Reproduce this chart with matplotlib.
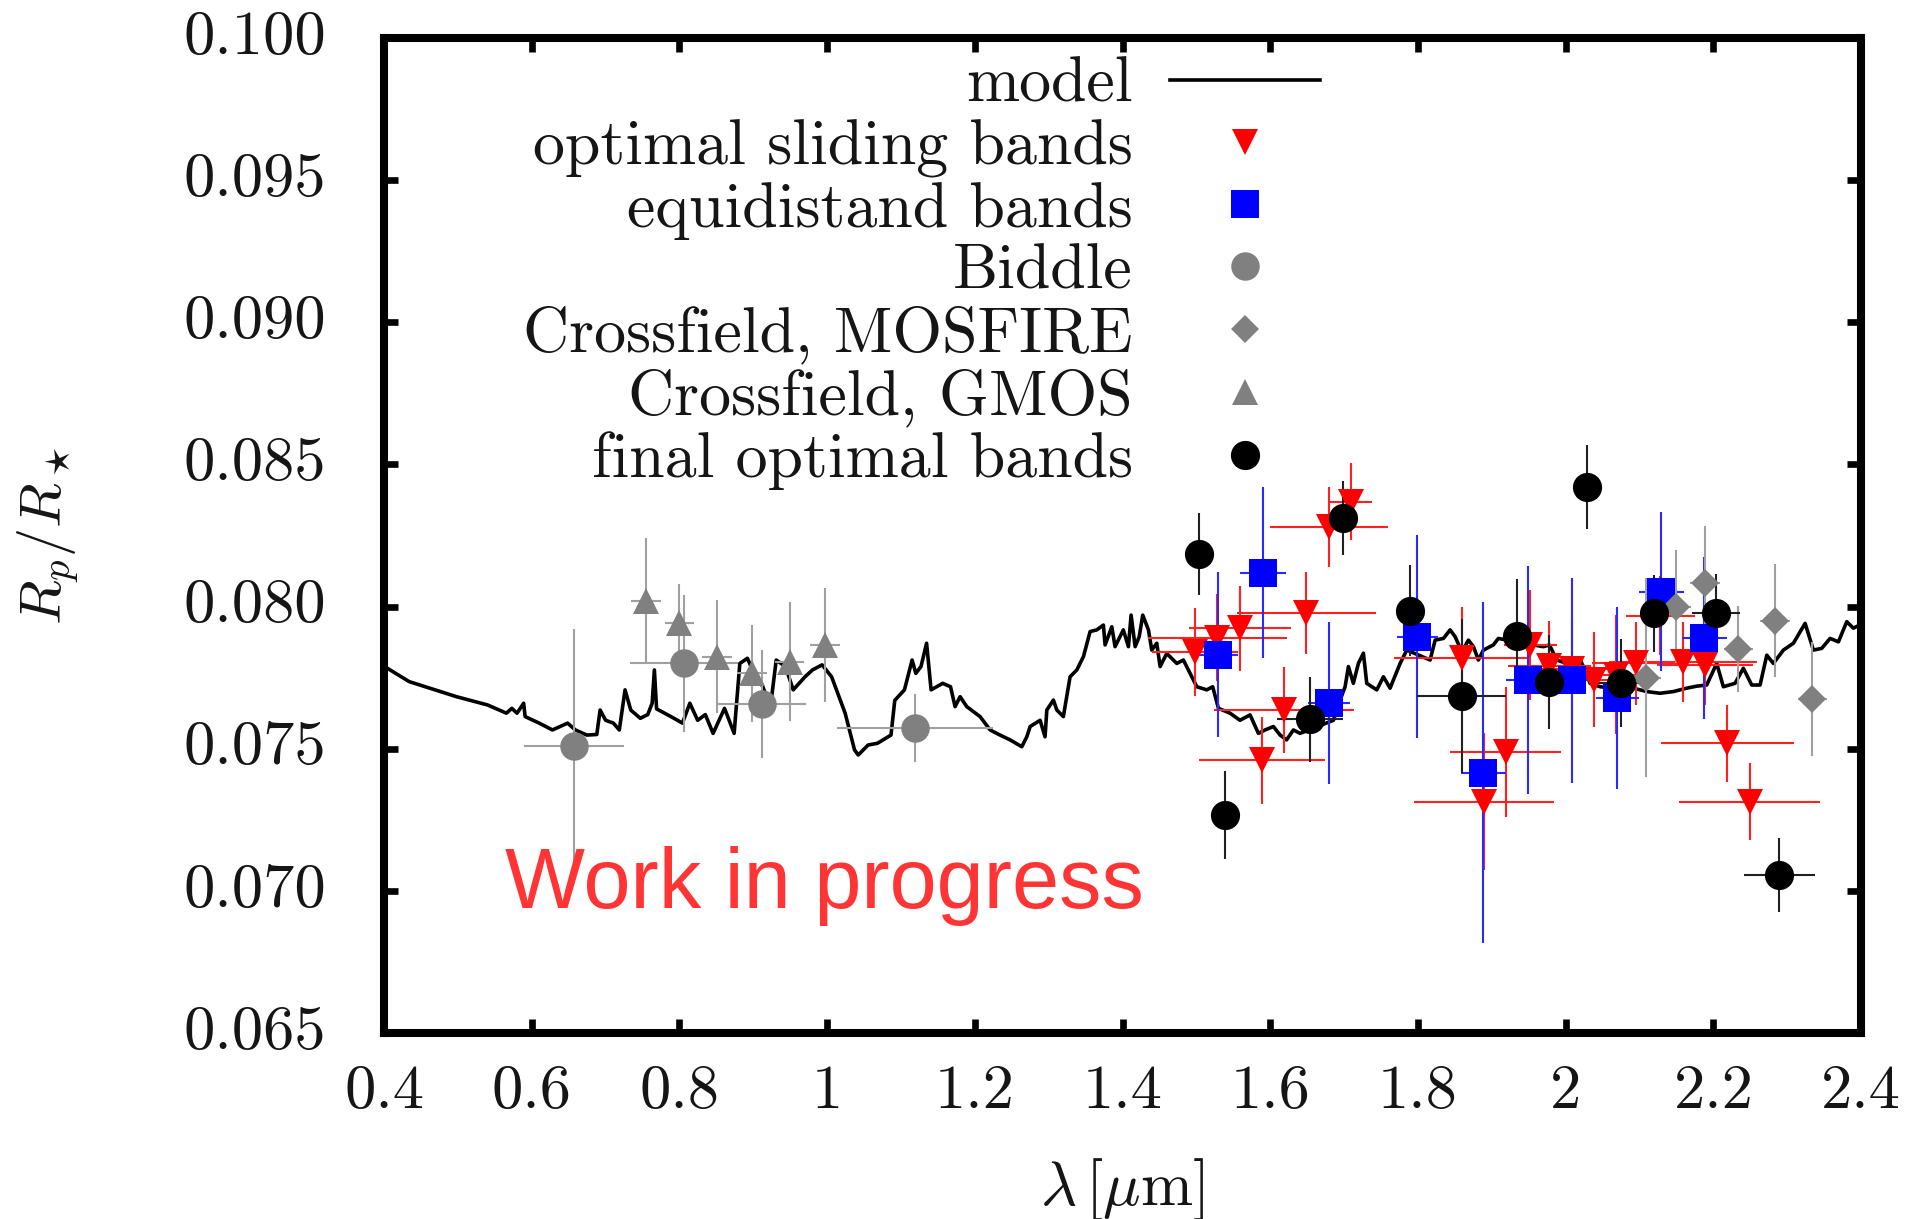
import matplotlib
matplotlib.use('Agg')
import matplotlib.pyplot as plt
from matplotlib.lines import Line2D

# model transmission spectrum (wavelength in micron, Rp/Rstar)
model_wl = [0.400, 0.434, 0.498, 0.540, 0.5656, 0.573, 0.580, 0.589, 0.591, 0.610,
            0.628, 0.6485, 0.659, 0.6745, 0.688, 0.6925, 0.700, 0.7105, 0.7185, 0.7263,
            0.734, 0.747, 0.757, 0.763, 0.766, 0.769, 0.7884, 0.804, 0.814, 0.8246,
            0.835, 0.8455, 0.861, 0.874, 0.8817, 0.892, 0.900, 0.9128, 0.9232, 0.931,
            0.9435, 0.954, 0.970, 0.980, 0.9931, 1.006, 1.0243, 1.037, 1.042, 1.0554,
            1.068, 1.0864, 1.0915, 1.1046, 1.115, 1.120, 1.127, 1.1346, 1.1407, 1.1564,
            1.167, 1.1732, 1.180, 1.189, 1.207, 1.2206, 1.234, 1.2477, 1.2635, 1.2703,
            1.2748, 1.2883, 1.295, 1.2974, 1.3063, 1.311, 1.3198, 1.3289, 1.338, 1.347,
            1.356, 1.365, 1.374, 1.3763, 1.3854, 1.3898, 1.401, 1.4079, 1.4115, 1.417,
            1.4225, 1.4273, 1.435, 1.4395, 1.4463, 1.4508, 1.4598, 1.4734, 1.4823, 1.4914,
            1.5005, 1.514, 1.522, 1.5298, 1.5455, 1.559, 1.5726, 1.5839, 1.5929, 1.6042,
            1.6133, 1.622, 1.6313, 1.6403, 1.6855, 1.6945, 1.7013, 1.7058, 1.7125, 1.7193,
            1.7261, 1.7306, 1.7442, 1.7532, 1.7622, 1.7758, 1.7848, 1.8164, 1.8232, 1.8345,
            1.8435, 1.8503, 1.8593, 1.8683, 1.8751, 1.8818, 1.8886, 1.902, 1.9088, 1.9563,
            1.9698, 1.978, 1.9879, 2.0014, 2.0195, 2.0262, 2.033, 2.0466, 2.0646, 2.0917,
            2.1097, 2.1278, 2.1458, 2.1639, 2.1774, 2.1909, 2.2045, 2.2135, 2.2293, 2.2406,
            2.2519, 2.2632, 2.2723, 2.2812, 2.2948, 2.3083, 2.3242, 2.3354, 2.3467, 2.358,
            2.3693, 2.3806, 2.3895, 2.398]
model_rp = [0.07790, 0.07736, 0.07683, 0.07654, 0.07625, 0.07642, 0.07625, 0.07660, 0.07613, 0.07590,
            0.07566, 0.07590, 0.07566, 0.07548, 0.07550, 0.07636, 0.07600, 0.07590, 0.07566, 0.07707,
            0.07636, 0.07607, 0.07620, 0.07660, 0.07777, 0.07640, 0.07613, 0.07590, 0.07660, 0.07600,
            0.07620, 0.07554, 0.07642, 0.07554, 0.07800, 0.07818, 0.07770, 0.07718, 0.07648, 0.07812,
            0.07789, 0.07707, 0.07753, 0.07777, 0.07795, 0.07753, 0.07625, 0.07496, 0.07478, 0.07513,
            0.07519, 0.07548, 0.07670, 0.07707, 0.07812, 0.07765, 0.07789, 0.07871, 0.07707, 0.07730,
            0.07718, 0.07648, 0.07683, 0.07648, 0.07613, 0.07566, 0.07548, 0.07531, 0.07507, 0.07542,
            0.07578, 0.07600, 0.07542, 0.07636, 0.07671, 0.07636, 0.07613, 0.07753, 0.07777, 0.07824,
            0.07912, 0.07918, 0.07935, 0.07865, 0.07929, 0.07859, 0.07918, 0.07859, 0.07970, 0.07859,
            0.07894, 0.07970, 0.07918, 0.07847, 0.07871, 0.07789, 0.07835, 0.07800, 0.07812, 0.07765,
            0.07718, 0.07707, 0.07718, 0.07642, 0.07625, 0.07600, 0.07619, 0.07554, 0.07566, 0.07578,
            0.07548, 0.07531, 0.07566, 0.07554, 0.07600, 0.07671, 0.07718, 0.07789, 0.07730, 0.07800,
            0.07836, 0.07730, 0.07707, 0.07753, 0.07713, 0.07800, 0.07847, 0.07812, 0.07882, 0.07888,
            0.07918, 0.07894, 0.07841, 0.07882, 0.07859, 0.07812, 0.07847, 0.07865, 0.07888, 0.07865,
            0.07859, 0.07865, 0.07812, 0.07800, 0.07812, 0.07777, 0.07730, 0.07718, 0.07713, 0.07713,
            0.07701, 0.07695, 0.07701, 0.07713, 0.07720, 0.07724, 0.07800, 0.07718, 0.07730, 0.07783,
            0.07724, 0.07724, 0.07829, 0.07800, 0.07847, 0.07871, 0.07941, 0.07847, 0.07853, 0.07888,
            0.07876, 0.07947, 0.07924, 0.07935]

# optimal sliding bands
sliding_wl = [1.498, 1.528, 1.559, 1.589, 1.619, 1.649, 1.679, 1.709, 1.859, 1.889, 1.919,
              1.952, 1.978, 2.008, 2.039, 2.068, 2.095, 2.128, 2.1585, 2.189, 2.219, 2.249]
sliding_rp = [0.07841, 0.07891, 0.07924, 0.07460, 0.07636, 0.07976, 0.08279, 0.08369, 0.07818,
              0.07314, 0.07488, 0.07865, 0.07790, 0.07780, 0.07742, 0.07760, 0.07800, 0.07968,
              0.07806, 0.07795, 0.07519, 0.07314]
sliding_dwl = [0.058, 0.094, 0.069, 0.085, 0.095, 0.094, 0.080, 0.029, 0.091, 0.095, 0.075,
               0.036, 0.056, 0.060, 0.050, 0.048, 0.060, 0.047, 0.100, 0.065, 0.090, 0.095]
sliding_drp = [0.00154, 0.00154, 0.00150, 0.00153, 0.00150, 0.00144, 0.00140, 0.00135, 0.00180,
               0.00240, 0.00228, 0.00195, 0.00160, 0.00176, 0.00167, 0.00210, 0.00146, 0.00140,
               0.00140, 0.00140, 0.00136, 0.00136]

# equidistant bands
equi_wl = [1.5289, 1.5898, 1.6796, 1.7992, 1.8885, 1.9486, 2.0082, 2.070, 2.1297, 2.1879]
equi_rp = [0.07830, 0.08119, 0.07660, 0.07894, 0.07416, 0.07742, 0.07740, 0.07677, 0.08052, 0.07888]
equi_dwl = [0.028, 0.031, 0.029, 0.028, 0.030, 0.030, 0.030, 0.029, 0.030, 0.030]
equi_drp = [0.0029, 0.0030, 0.00285, 0.00357, 0.0060, 0.0040, 0.0036, 0.0032, 0.0028, 0.00285]

# Biddle et al.
biddle_wl = [0.657, 0.8056, 0.9112, 1.119]
biddle_rp = [0.07510, 0.07800, 0.07657, 0.07572]
biddle_dwl = [0.068, 0.073, 0.060, 0.106]
biddle_drp = [0.0041, 0.0024, 0.0019, 0.0012]

# Crossfield, MOSFIRE
mosfire_wl = [2.1084, 2.1495, 2.1888, 2.2339, 2.2835, 2.334]
mosfire_rp = [0.07750, 0.08000, 0.08082, 0.07851, 0.07951, 0.07675]
mosfire_dwl = [0.02, 0.02, 0.02, 0.02, 0.02, 0.02]
mosfire_drp = [0.0035, 0.0020, 0.0020, 0.0015, 0.0020, 0.0020]

# Crossfield, GMOS
gmos_wl = [0.7548, 0.7999, 0.8507, 0.898, 0.949, 0.997]
gmos_rp = [0.08020, 0.07941, 0.07824, 0.07765, 0.07806, 0.07865]
gmos_dwl = [0.02, 0.02, 0.02, 0.02, 0.02, 0.02]
gmos_drp = [0.0022, 0.0014, 0.0020, 0.0017, 0.0021, 0.0020]

# final optimal bands
final_wl = [1.504, 1.5388, 1.6539, 1.699, 1.7893, 1.8593, 1.9337, 1.9775, 2.0294, 2.0745,
            2.1197, 2.2036, 2.2894]
final_rp = [0.08184, 0.07267, 0.07604, 0.08311, 0.07986, 0.07686, 0.07897, 0.07736, 0.08420,
            0.07732, 0.07976, 0.07976, 0.07056]
final_dwl = [0.0, 0.0118, 0.045, 0.0, 0.0, 0.0605, 0.0, 0.0, 0.0, 0.038, 0.0, 0.032, 0.048]
final_drp = [0.00145, 0.00156, 0.0015, 0.0013, 0.0016, 0.0027, 0.0020, 0.00165, 0.00147,
             0.00155, 0.00135, 0.0014, 0.0013]

xtick_vals = [0.4, 0.6, 0.8, 1.0, 1.2, 1.4, 1.6, 1.8, 2.0, 2.2, 2.4]
xtick_labels = ['0.4', '0.6', '0.8', '1', '1.2', '1.4', '1.6', '1.8', '2', '2.2', '2.4']
ytick_vals = [0.065, 0.070, 0.075, 0.080, 0.085, 0.090, 0.095, 0.100]
ytick_labels = ['0.065', '0.070', '0.075', '0.080', '0.085', '0.090', '0.095', '0.100']

legend_labels = ['model', 'optimal sliding bands', 'equidistand bands', 'Biddle',
                 'Crossfield, MOSFIRE', 'Crossfield, GMOS', 'final optimal bands']

plt.rcParams['font.family'] = 'cmr10'
plt.rcParams['mathtext.fontset'] = 'cm'
plt.rcParams['axes.unicode_minus'] = False

fig = plt.figure(figsize=(19.33, 12.19), dpi=100)
ax = fig.add_axes([0.1987, 0.1526, 0.7641, 0.8162])

GRAY = '#808080'
GRAY_ERR = '#a0a0a0'
TEXT = '#151515'
eb = dict(ls='none', capsize=4.7, elinewidth=1.5, capthick=1.5, mew=0)

# marker styles shared by the data and the key
styles = {
    'sliding': dict(marker='v', ms=19, color='red'),
    'equi': dict(marker='s', ms=20.5, color='#0000ff'),
    'biddle': dict(marker='o', ms=20.5, color=GRAY),
    'mosfire': dict(marker='D', ms=14.5, color=GRAY),
    'gmos': dict(marker='^', ms=19, color=GRAY),
    'final': dict(marker='o', ms=21, color='black'),
}

ax.plot(model_wl, model_rp, color='black', lw=2.6)
ax.errorbar(sliding_wl, sliding_rp, xerr=sliding_dwl, yerr=sliding_drp,
            ecolor='#ff2020', **styles['sliding'], **eb)
ax.errorbar(equi_wl, equi_rp, xerr=equi_dwl, yerr=equi_drp,
            ecolor='#2a2aff', **styles['equi'], **eb)
ax.errorbar(biddle_wl, biddle_rp, xerr=biddle_dwl, yerr=biddle_drp,
            ecolor=GRAY_ERR, **styles['biddle'], **eb)
ax.errorbar(mosfire_wl, mosfire_rp, xerr=mosfire_dwl, yerr=mosfire_drp,
            ecolor=GRAY_ERR, **styles['mosfire'], **eb)
ax.errorbar(gmos_wl, gmos_rp, xerr=gmos_dwl, yerr=gmos_drp,
            ecolor=GRAY_ERR, **styles['gmos'], **eb)
ax.errorbar(final_wl, final_rp, xerr=final_dwl, yerr=final_drp,
            ecolor='#202020', **styles['final'], **eb)

ax.set_xlim(0.4, 2.4)
ax.set_ylim(0.065, 0.100)
ax.set_xticks(xtick_vals)
ax.set_xticklabels(xtick_labels)
ax.set_yticks(ytick_vals)
ax.set_yticklabels(ytick_labels, va='center')
ax.tick_params(direction='in', length=10, width=4.8, top=True, right=True,
               labelsize=45, colors='black', labelcolor=TEXT)
ax.tick_params(axis='x', pad=23)
ax.tick_params(axis='y', pad=42)
for sp in ax.spines.values():
    sp.set_linewidth(5.8)

ax.set_xlabel(r'$\lambda\,[\mu\mathrm{m}]$', fontsize=45, va='baseline', color=TEXT)
ax.xaxis.set_label_coords(0.5, -0.1729)
ax.set_ylabel(r'$R_p/R_\star$', fontsize=42, va='center', color=TEXT)
ax.yaxis.set_label_coords(-0.2268, 0.5)

handles = [Line2D([], [], color='black', lw=2.6)]
for key in ['sliding', 'equi', 'biddle', 'mosfire', 'gmos', 'final']:
    handles.append(Line2D([], [], ls='none', mew=0, **styles[key]))
leg = ax.legend(handles, legend_labels, loc='upper right', bbox_to_anchor=(0.6337, 0.981),
                markerfirst=False, frameon=False, fontsize=46, handlelength=2.35,
                handletextpad=0.58, labelspacing=0.065, borderpad=0, borderaxespad=0)
for t in leg.get_texts():
    t.set_color(TEXT)

ax.text(0.0816, 0.126, 'Work in progress', transform=ax.transAxes, fontsize=61,
        family='Liberation Sans', color='#ff3535', ha='left', va='baseline')

fig.savefig('out.png', dpi=100)
